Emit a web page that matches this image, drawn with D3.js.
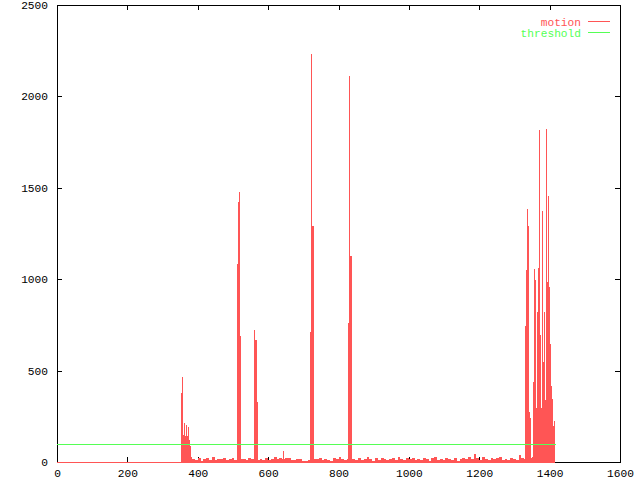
<!DOCTYPE html>
<html>
<head>
<meta charset="utf-8">
<script src="https://cdn.jsdelivr.net/npm/d3@7"></script>
<style>
  html, body { margin: 0; padding: 0; background: #fff; }
  svg { display: block; }
  text { font-family: "Liberation Mono", "DejaVu Sans Mono", monospace; font-size: 11.2px; }
</style>
</head>
<body>
<svg id="chart" width="640" height="480"></svg>
<script>
// ---------------- data ----------------
const seriesNames = ["motion", "threshold"];
const seriesColors = ["#ff5555", "#55ff55"];
const xTicks = [0, 200, 400, 600, 800, 1000, 1200, 1400, 1600];
const yTicks = [0, 500, 1000, 1500, 2000, 2500];
const thresholdValue = 100;
const firstFrame = 0;
const lastFrame = 1419;

// low-level background motion, one sample every 8 frames starting at frame 384
const noiseStartFrame = 384;
const noiseStep = 8;
const noise = [
  18, 10, 22, 8, 15, 20, 12, 25, 10, 18, 14, 22, 9, 16, 20, 12,
  null, null, 14, 10, 20, 15, 8, null, 18, 12, 22, 10, 16, 28, 14, 20,
  18, 24, 22, 12, 10, 18, 14, 8, 6, 12, 16, null, 14, 20, 10, 18,
  12, 8, 20, 15, 25, 18, 10, 14, null, 18, 10, 22, 12, 16, 26, 14,
  8, 20, 12, 24, 16, 10, 18, 22, 12, 28, 14, 10, 20, 16, 24, 12,
  18, 10, 22, 14, 8, 20, 26, 12, 18, 10, 24, 16, 12, 20, 8, 18,
  22, 14, 28, 16, 42, 20, 12, 30, 18, 10, 22, 14, 20, 26, 12, 18,
  10, 24, 16, 12, 40, 20, 14
];

// motion bursts (frame, value)
const peakFrames = [
  0,
  352, 355, 357, 360, 363, 366, 369, 372, 374, 377, 380,
  511, 513, 516, 519, 522,
  561, 564, 567, 570,
  643, 645,
  720, 723, 726, 729,
  828, 831, 834, 837,
  1330, 1333, 1336, 1339, 1342, 1345, 1348, 1350, 1353, 1356,
  1359, 1362, 1364, 1367, 1370, 1373, 1376, 1379, 1381, 1384,
  1387, 1390, 1393, 1396, 1398, 1401, 1404, 1407, 1410, 1413, 1416
];
const peakValues = [
  0,
  380, 465, 150, 215, 140, 200, 140, 190, 120, 90, 30,
  1083, 1422, 1477, 690, 15,
  722, 668, 330, 12,
  62, 18,
  711, 2232, 1291, 14,
  760, 2112, 1127, 16,
  744, 1050, 1384, 1291, 273, 240, 20, 25, 440, 1056,
  995, 295, 820, 1061, 1816, 695, 295, 1373, 547, 820,
  339, 1822, 985, 1455, 955, 645, 416, 345, 197, 225
];

// ---------------- build series ----------------
const points = [];
peakFrames.forEach((f, i) => points.push({ f: f, v: peakValues[i] }));
noise.forEach((v, i) => { if (v !== null) points.push({ f: noiseStartFrame + i * noiseStep, v: v }); });
points.sort((a, b) => a.f - b.f);
const segments = points.map((p, i) => ({
  f0: p.f,
  f1: i < points.length - 1 ? points[i + 1].f : lastFrame,
  v: p.v
}));
// draw small values first so taller impulses win where they share a pixel
const drawOrder = segments.slice().sort((a, b) => a.v - b.v);

// ---------------- chart ----------------
const svg = d3.select("#chart");
svg.append("rect").attr("width", 640).attr("height", 480).attr("fill", "#fff");

const x = d3.scaleLinear().domain([0, 1600]).range([57, 620]);
const y = d3.scaleLinear().domain([0, 2500]).range([462, 5]);
const tickLen = 5;

const axisG = svg.append("g").attr("shape-rendering", "crispEdges");

// tick marks (inward, mirrored)
yTicks.forEach(t => {
  const yy = Math.round(y(t)) + 0.5;
  axisG.append("line").attr("x1", x(0)).attr("x2", x(0) + tickLen).attr("y1", yy).attr("y2", yy).attr("stroke", "#000");
  axisG.append("line").attr("x1", x(1600) - tickLen).attr("x2", x(1600)).attr("y1", yy).attr("y2", yy).attr("stroke", "#000");
});
xTicks.forEach(t => {
  const xx = Math.round(x(t)) + 0.5;
  axisG.append("line").attr("x1", xx).attr("x2", xx).attr("y1", y(0)).attr("y2", y(0) - tickLen).attr("stroke", "#000");
  axisG.append("line").attr("x1", xx).attr("x2", xx).attr("y1", y(2500)).attr("y2", y(2500) + tickLen).attr("stroke", "#000");
});

// border
axisG.append("rect")
  .attr("x", x(0) + 0.5).attr("y", y(2500) + 0.5)
  .attr("width", x(1600) - x(0)).attr("height", y(0) - y(2500))
  .attr("fill", "none").attr("stroke", "#000");

// tick labels
svg.append("g").selectAll("text").data(yTicks).join("text")
  .attr("x", 48).attr("y", d => y(d)).attr("dy", "0.36em")
  .attr("text-anchor", "end").attr("fill", "#000").text(d => d);
svg.append("g").selectAll("text").data(xTicks).join("text")
  .attr("x", d => x(d) + 0.5).attr("y", 473).attr("dy", "0.36em")
  .attr("text-anchor", "middle").attr("fill", "#000").text(d => d);

// motion impulses, snapped to whole pixel columns
const px0 = d => Math.round(x(d.f0));
const px1 = d => Math.max(px0(d) + 1, Math.round(x(d.f1)));
svg.append("g").attr("shape-rendering", "crispEdges")
  .selectAll("rect").data(drawOrder).join("rect")
  .attr("x", px0)
  .attr("width", d => px1(d) - px0(d))
  .attr("y", d => Math.round(y(d.v)))
  .attr("height", d => Math.round(y(0)) - Math.round(y(d.v)) + 1)
  .attr("fill", seriesColors[0]);

// threshold line
const thresholdData = [{ f: firstFrame, v: thresholdValue }, { f: lastFrame, v: thresholdValue }];
svg.append("path")
  .datum(thresholdData)
  .attr("d", d3.line().x(d => x(d.f)).y(d => Math.round(y(d.v)) + 0.5))
  .attr("fill", "none").attr("stroke", seriesColors[1]).attr("stroke-width", 1)
  .attr("shape-rendering", "crispEdges");

// legend
const legend = svg.append("g");
seriesNames.forEach((name, i) => {
  const ly = 21.5 + i * 11;
  legend.append("text").attr("x", 581).attr("y", ly).attr("dy", "0.36em")
    .attr("text-anchor", "end").attr("fill", seriesColors[i]).text(name);
  legend.append("line").attr("x1", 588).attr("x2", 610).attr("y1", ly).attr("y2", ly)
    .attr("stroke", seriesColors[i]).attr("shape-rendering", "crispEdges");
});
</script>
</body>
</html>
